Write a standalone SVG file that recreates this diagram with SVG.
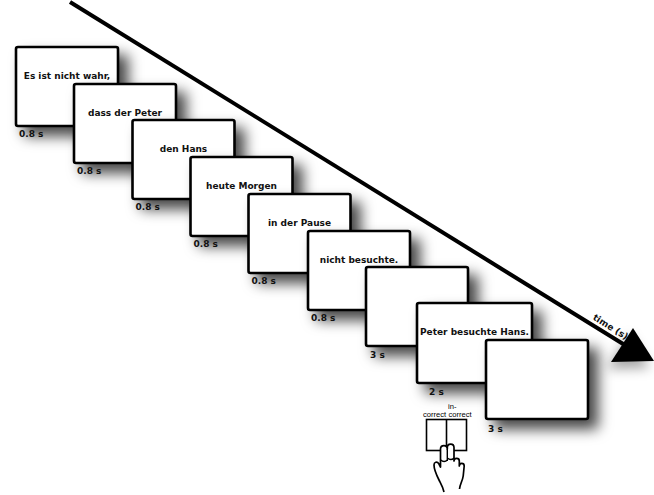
<svg xmlns="http://www.w3.org/2000/svg" width="654" height="495" viewBox="0 0 654 495">
<style>
.box{fill:#fff;stroke:#000;stroke-width:2.6}
.sh{filter:url(#shadow)}
.t{font-family:"DejaVu Sans",Verdana,sans-serif;font-weight:bold;font-size:9px;fill:#111;text-anchor:middle}
.l{font-family:"DejaVu Sans",Verdana,sans-serif;font-weight:bold;font-size:9px;fill:#111}
.s{font-family:"Liberation Sans",Arial,sans-serif;font-size:7.6px;fill:#000}
</style>
<defs>
<filter id="shadow" x="-30%" y="-30%" width="170%" height="170%">
<feDropShadow dx="9" dy="9" stdDeviation="7" flood-color="#000" flood-opacity="0.72"/>
</filter>
<filter id="ashadow" x="-60%" y="-60%" width="220%" height="220%">
<feDropShadow dx="-4" dy="7" stdDeviation="6" flood-color="#000" flood-opacity="0.35"/>
</filter>
</defs>
<rect width="654" height="495" fill="#fff"/>
<g id="connectors">
<line x1="70" y1="2" x2="628" y2="347" stroke="#000" stroke-width="4"/>
<polygon points="633,328 654,361 611,362" fill="#000" filter="url(#ashadow)"/>
<text class="l" transform="translate(609,329.5) rotate(32)" text-anchor="middle">time (s)</text>
</g>
<g id="n1"><rect class="box sh" x="16" y="47" width="102" height="79" rx="2"/><text class="t" x="67" y="79">Es ist nicht wahr,</text><text class="l" x="19" y="137">0.8 s</text></g>
<g id="n2"><rect class="box sh" x="74" y="84" width="102" height="79" rx="2"/><text class="t" x="125" y="116">dass der Peter</text><text class="l" x="77" y="174">0.8 s</text></g>
<g id="n3"><rect class="box sh" x="132.5" y="120" width="102" height="79" rx="2"/><text class="t" x="183.5" y="152">den Hans</text><text class="l" x="135.5" y="210">0.8 s</text></g>
<g id="n4"><rect class="box sh" x="190.5" y="157" width="102" height="79" rx="2"/><text class="t" x="241.5" y="189">heute Morgen</text><text class="l" x="193.5" y="247">0.8 s</text></g>
<g id="n5"><rect class="box sh" x="248.5" y="194" width="102" height="79" rx="2"/><text class="t" x="299.5" y="226">in der Pause</text><text class="l" x="251.5" y="284">0.8 s</text></g>
<g id="n6"><rect class="box sh" x="308" y="231" width="102" height="79" rx="2"/><text class="t" x="359" y="263">nicht besuchte.</text><text class="l" x="311" y="321">0.8 s</text></g>
<g id="n7"><rect class="box sh" x="366" y="267" width="102" height="79" rx="2"/><text class="l" x="370" y="358">3 s</text></g>
<g id="n8"><rect class="box sh" x="417" y="303" width="115" height="80" rx="2"/><text class="t" x="474.5" y="335">Peter besuchte Hans.</text><text class="l" x="429" y="395">2 s</text></g>
<g id="n9"><rect class="box sh" x="486" y="340" width="102" height="79" rx="2"/><text class="l" x="488" y="432">3 s</text></g>
<g id="response">
<text class="s" x="448" y="409">in-</text>
<text class="s" x="434.5" y="417" text-anchor="middle">correct</text>
<text class="s" x="460" y="417" text-anchor="middle">correct</text>
<rect x="426.5" y="419.5" width="40" height="31" fill="#fff" stroke="#000" stroke-width="1.6"/>
<line x1="446.5" y1="419.5" x2="446.5" y2="450.5" stroke="#000" stroke-width="1.6"/>
<path d="M444,492 C443,487 441,484 439,480 C437,476 434,470 434,465 C434,462 437,461 439,464 L440.5,467 L440.5,449 C440.5,444.5 447.3,444.5 447.3,449 L447.3,447.5 C447.3,443 454,443 454,447.5 L454,461 C454,457.5 459.3,457.5 459.3,461 L459.3,466 C459.3,462.5 464.2,462.5 464.2,466 L463.2,476 C462.5,481 460,484 459.5,489" fill="#fff" stroke="#000" stroke-width="1.7" stroke-linejoin="round"/>
<path d="M447.3,449 L447.3,461 M441,460 C442.5,462 445.5,462 447.3,460 M447.3,458 C449.5,460 452,460 454,458" fill="none" stroke="#000" stroke-width="1.4"/>
</g>
</svg>
